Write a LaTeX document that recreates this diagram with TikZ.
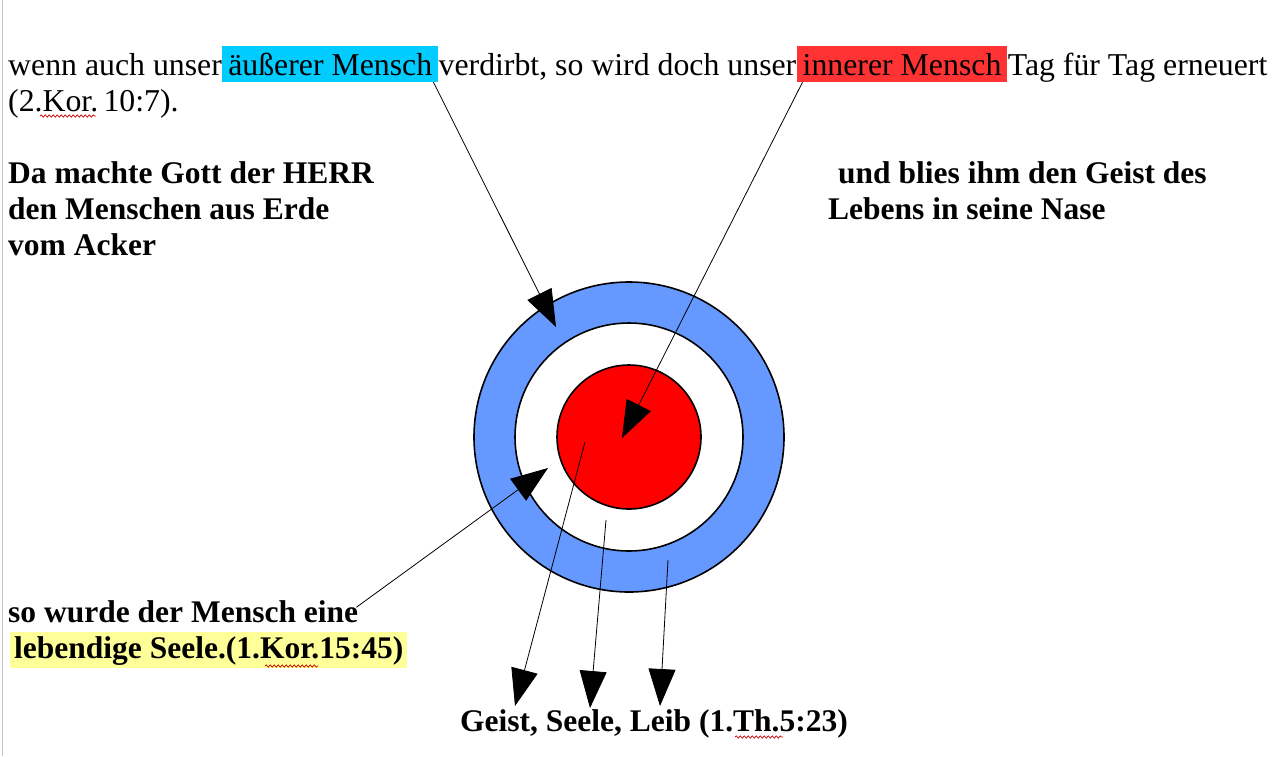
\documentclass[tikz,border=0pt]{standalone}
\usepackage{fontspec}
\setmainfont{Liberation Serif}
\usetikzlibrary{arrows.meta,decorations.pathmorphing}
\definecolor{hcyan}{RGB}{0,204,255}
\definecolor{hred}{RGB}{255,51,51}
\definecolor{hyel}{RGB}{255,255,153}
\definecolor{ringblue}{RGB}{102,153,255}
\definecolor{corered}{RGB}{255,0,0}
\tikzset{
  txt/.style={inner sep=0pt, anchor=base west, font=\fontsize{31.8}{37}\selectfont},
  btxt/.style={inner sep=0pt, anchor=base west, font=\fontsize{31.5}{37}\selectfont\bfseries},
  hlbox/.style={txt, inner xsep=6pt, inner ysep=0pt, text height=29pt, text depth=7pt},
  ptr/.style={draw=black, line width=0.8pt, -{Triangle[length=37pt,width=27pt]}},
  ring/.style={draw=black, line width=1.6pt},
  spell/.style={draw=red!80!black, line width=0.7pt, decorate, decoration={snake, amplitude=1.2pt, segment length=4pt}}
}
\begin{document}
\begin{tikzpicture}[x=1pt,y=-1pt]
\useasboundingbox (0,0) rectangle (1277,756);
\fill[white] (0,0) rectangle (1277,756);
\draw[gray!45, line width=0.8pt] (2.5,0) -- (2.5,756);
% top line
\node[txt] (l1a) at (8,75) {wenn auch unser};
\node[hlbox, fill=hcyan] (aus) at (l1a.base east) {äußerer Mensch};
\node[txt] (l1b) at (aus.base east) {verdirbt, so wird doch unser};
\node[hlbox, fill=hred] (inn) at (l1b.base east) {innerer Mensch};
\node[txt] (l1c) at (inn.base east) {Tag für Tag erneuert};
\node[txt] (l2) at (8,111) {(2.Kor.\,10:7).};
% bold texts
\node[btxt] (da1) at (8,183) {Da machte Gott der HERR};
\node[btxt] (da2) at (8,219) {den Menschen aus Erde};
\node[btxt] (da3) at (8,255) {vom Acker};
\node[btxt] (un1) at (838,183) {und blies ihm den Geist des};
\node[btxt] (un2) at (828,219) {Lebens in seine Nase};
\node[btxt] (so1) at (8,622) {so wurde der Mensch eine};
\node[btxt, fill=hyel, inner xsep=4pt, text height=26pt, text depth=10pt] (so2) at (10,658) {lebendige Seele.(1.Kor.15:45)};
\node[btxt] (gsl) at (460,731) {Geist, Seele, Leib (1.Th.5:23)};
% spell-check marks
\draw[spell] (40,116) -- (96,116);
\draw[spell] (265,666) -- (318,666);
\draw[spell] (735,737) -- (783,737);
% circles
\coordinate (c) at (629,437);
\fill[ringblue] (c) circle (155);
\draw[ring] (c) circle (155);
\fill[white] (c) circle (114);
\draw[ring] (c) circle (114);
\fill[corered] (c) circle (72);
\draw[ring] (c) circle (72);
% arrow targets and origins
\coordinate (t1) at (556,327);
\coordinate (t2) at (622,438);
\coordinate (t3) at (548,468);
\coordinate (s4) at (585,442);
\coordinate (s5) at (606,520);
\coordinate (s6) at (668,560);
\coordinate (t4) at (515,706);
\coordinate (t5) at (590,708);
\coordinate (t6) at (660,706);
\draw[ptr] ([xshift=-5pt]aus.south east) -- (t1);
\draw[ptr] ([xshift=6pt]inn.south west) -- (t2);
\draw[ptr] ([xshift=-2pt,yshift=4pt]so1.east) -- (t3);
\draw[ptr] (s4) -- (t4);
\draw[ptr] (s5) -- (t5);
\draw[ptr] (s6) -- (t6);
\end{tikzpicture}
\end{document}
